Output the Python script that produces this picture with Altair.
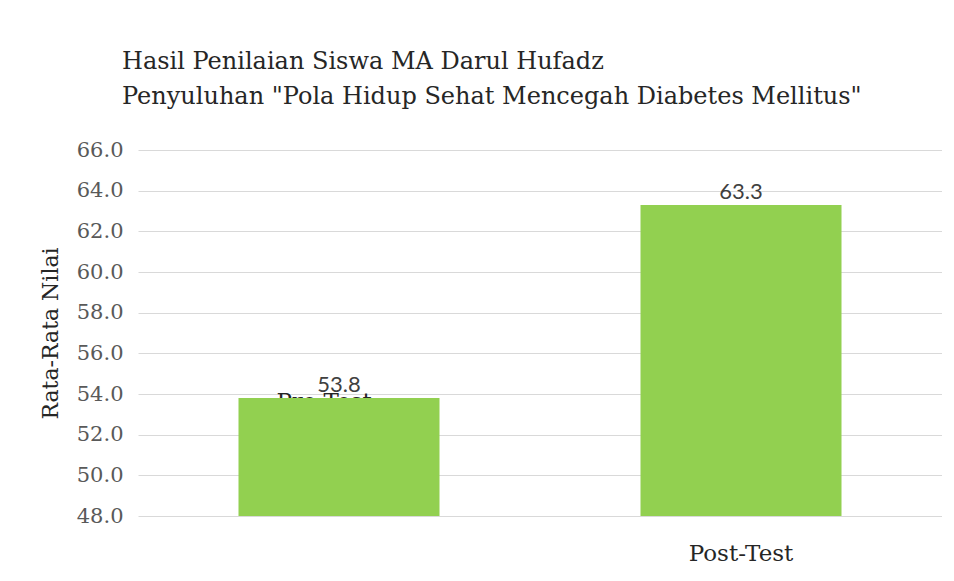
import altair as alt
import pandas as pd

categories = ["Pre-Test", "Post-Test"]
values = [53.8, 63.3]
y_ticks = [48, 50, 52, 54, 56, 58, 60, 62, 64, 66]
title_lines = ["Hasil Penilaian Siswa MA Darul Hufadz",
               "Penyuluhan \"Pola Hidup Sehat Mencegah Diabetes Mellitus\""]
y_title = "Rata-Rata Nilai"

df = pd.DataFrame({"cat": categories, "val": values})

SERIF = "DejaVu Serif"

x_enc = alt.X("cat:N", sort=categories,
              scale=alt.Scale(paddingInner=0.5, paddingOuter=0.25),
              axis=alt.Axis(title=None, labelExpr="datum.value == 'Post-Test' ? datum.value : ''",
                            labelAngle=0, labelFont=SERIF, labelFontSize=23, labelColor="#262626",
                            labelPadding=26, ticks=False, domain=False, grid=False))
y_scale = alt.Scale(domain=[48, 66], nice=False, zero=False)

base = alt.Chart(df)

pre_label = base.transform_filter(alt.datum.cat == "Pre-Test").mark_text(
    font=SERIF, fontSize=23, color="#262626", baseline="alphabetic", dx=-15, dy=11
).encode(x=x_enc, y=alt.Y("val:Q", scale=y_scale), text="cat:N")

bars = base.mark_bar(color="#92D050").encode(
    x=x_enc,
    y=alt.Y("val:Q", scale=y_scale,
            axis=alt.Axis(title=y_title, values=y_ticks, format=".1f",
                          labelFont=SERIF, labelFontSize=21, labelColor="#595959",
                          labelPadding=15, ticks=False, domain=False,
                          gridColor="#d9d9d9", gridWidth=1,
                          titleFont=SERIF, titleFontSize=22, titleColor="#262626",
                          titleFontWeight="normal", titlePadding=14)),
    y2=alt.datum(48),
)

val_labels = base.mark_text(
    font="Lato", fontSize=22, color="#404040", baseline="alphabetic", dy=-6
).encode(x=x_enc, y=alt.Y("val:Q", scale=y_scale), text=alt.Text("val:Q", format=".1f"))

chart = alt.layer(pre_label, bars, val_labels).properties(
    width=804, height=366,
    title=alt.TitleParams(text=title_lines, anchor="start", frame="group", dx=-16,
                          font=SERIF, fontSize=24, fontWeight="normal", color="#262626",
                          lineHeight=35, offset=30),
    autosize=alt.AutoSizeParams(type="none"),
    padding={"left": 130, "top": 142, "right": 0, "bottom": 55},
).configure(background="white").configure_view(stroke=None)

chart.save("out.html", embed_options={"renderer": "svg", "actions": False})
